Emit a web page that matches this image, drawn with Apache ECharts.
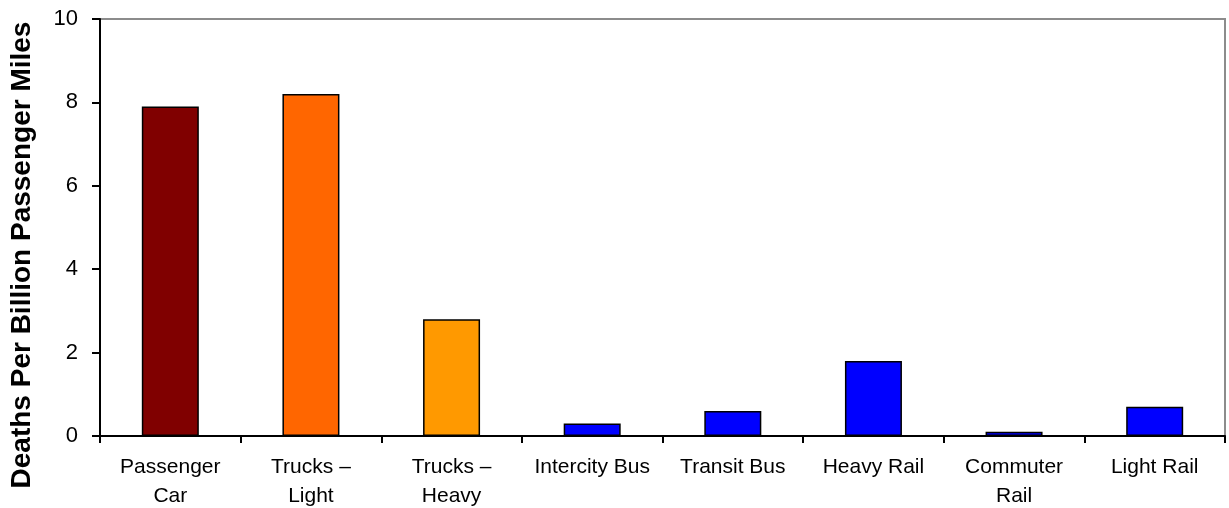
<!DOCTYPE html>
<html>
<head>
<meta charset="utf-8">
<script src="https://cdn.jsdelivr.net/npm/echarts@6/dist/echarts.min.js"></script>
<style>
html,body{margin:0;padding:0;background:#fff;}
#c{width:1229px;height:508px;}
</style>
</head>
<body>
<div id="c"></div>
<script>
const categories = ['Passenger\nCar', 'Trucks –\nLight', 'Trucks –\nHeavy', 'Intercity Bus', 'Transit Bus', 'Heavy Rail', 'Commuter\nRail', 'Light Rail'];
const values = [7.9, 8.2, 2.8, 0.3, 0.6, 1.8, 0.1, 0.7];
const barColors = ['#800000', '#FF6600', '#FF9900', '#0000FF', '#0000FF', '#0000FF', '#0000FF', '#0000FF'];
const yTitle = 'Deaths Per Billion Passenger Miles';

const chart = echarts.init(document.getElementById('c'), null, {renderer: 'canvas'});
chart.setOption({
  animation: false,
  backgroundColor: '#fff',
  grid: {left: 100, right: 4, top: 19, bottom: 72, containLabel: false, outerBoundsMode: 'none', show: true, borderColor: '#8c8c8c', borderWidth: 2, backgroundColor: 'transparent'},
  xAxis: {
    type: 'category',
    data: categories,
    axisLine: {lineStyle: {color: '#000', width: 2}},
    axisTick: {show: true, alignWithLabel: false, length: 7, lineStyle: {color: '#000', width: 2}},
    axisLabel: {color: '#000', fontFamily: 'Liberation Sans, Arial, sans-serif', fontSize: 21, lineHeight: 29, margin: 17, interval: 0}
  },
  yAxis: {
    type: 'value',
    min: 0, max: 10, interval: 2,
    axisLine: {show: true, lineStyle: {color: '#000', width: 2}},
    axisTick: {show: true, length: 8, lineStyle: {color: '#000', width: 2}},
    axisLabel: {color: '#000', fontFamily: 'Liberation Sans, Arial, sans-serif', fontSize: 22, margin: 22},
    splitLine: {show: false}
  },
  graphic: [{
    type: 'text',
    x: 22, y: 255,
    rotation: Math.PI / 2,
    style: {text: yTitle, fill: '#000', font: 'bold 28px "Liberation Sans", Arial, sans-serif', align: 'center', verticalAlign: 'middle'}
  }],
  series: [{
    type: 'bar',
    data: values.map((v, i) => ({value: v, itemStyle: {color: barColors[i]}})),
    barWidth: 57,
    itemStyle: {borderColor: '#000', borderWidth: 1.5}
  }]
});
</script>
</body>
</html>
